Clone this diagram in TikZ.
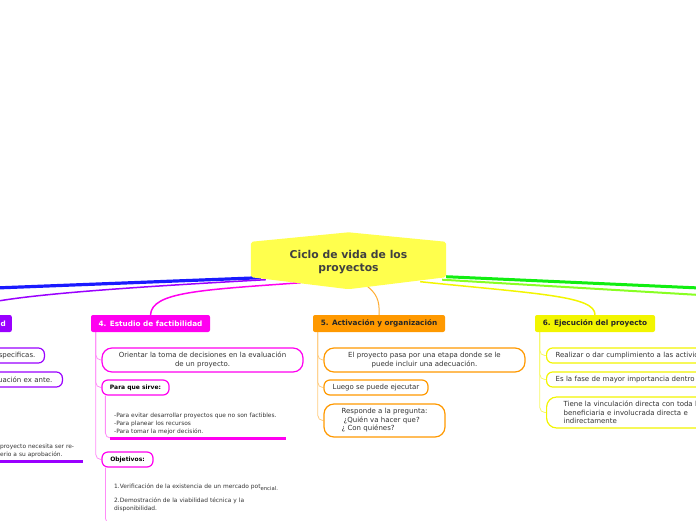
\documentclass[tikz,border=0pt]{standalone}
\usepackage{fontspec}
\setmainfont{DejaVu Sans}
\usepackage{xcolor}
\usepackage{tikz}
\usetikzlibrary{positioning}

\definecolor{rootyellow}{HTML}{FFFF4D}
\definecolor{roottext}{HTML}{404040}
\definecolor{cblue}{HTML}{1A1AFF}
\definecolor{cpurple}{HTML}{9A00FF}
\definecolor{cmagenta}{HTML}{FF00F0}
\definecolor{corange}{HTML}{FF9900}
\definecolor{cyellow}{HTML}{F2F500}
\definecolor{cgreen}{HTML}{11EE11}
\definecolor{clime}{HTML}{88FF22}
\definecolor{leaftext}{HTML}{333333}

\pgfdeclarelayer{lines}
\pgfdeclarelayer{shape}
\pgfsetlayers{lines,shape,main}

\begin{document}
\begin{tikzpicture}[x=1pt, y=-1pt,
    topic/.style={rounded corners=2pt, font=\fontsize{7.3}{8}\selectfont\bfseries, minimum height=17pt, inner sep=0pt},
    leaf/.style={draw, fill=white, rounded corners=6pt, line width=1.2pt, font=\fontsize{7}{8.5}\selectfont, text=leaftext, minimum height=15pt, inner xsep=8pt, inner ysep=2pt},
    head/.style={font=\fontsize{6}{7}\selectfont\bfseries, text=black},
    note/.style={font=\fontsize{5.9}{8}\selectfont, text=leaftext, align=left, inner xsep=4pt, inner ysep=3pt},
    sub/.style={line width=0.8pt, rounded corners=5pt},
    bar/.style={line width=3pt}]
    \path[use as bounding box] (0,0) rectangle (696,520);

    \node[font=\fontsize{10.8}{13}\selectfont\bfseries, text=roottext, align=center, minimum width=195pt, minimum height=35pt, inner sep=0pt] (root) at (348.5,262) {Ciclo de vida de los\\proyectos};
    \begin{pgfonlayer}{shape}
        \fill[rootyellow, rounded corners=2pt] ([yshift=2.5pt]root.north west) -- ([yshift=12pt]root.north) -- ([yshift=2.5pt]root.north east)
            -- ([yshift=2.5pt]root.south east) -- ([yshift=-9.5pt]root.south) -- ([yshift=2.5pt]root.south west) -- cycle;
    \end{pgfonlayer}

    \coordinate (blueend) at (-5,288);
    \coordinate (greenend) at (700,288);
    \coordinate (limeend) at (700,295);

    \node[topic, fill=cpurple, text=white, anchor=east, minimum width=100pt, text width=88pt, align=right] (ident) at (12,323.5) {d};
    \node[topic, fill=cmagenta, text=white, minimum width=119pt] (fact) at (150.5,323.5) {4. Estudio de factibilidad};
    \node[topic, fill=corange, text=black!85, minimum width=132pt] (act) at (379,323.5) {5. Activación y organización};
    \node[topic, fill=cyellow, text=black!85, minimum width=120pt] (ejec) at (595,323.5) {6. Ejecución del proyecto};

    \node[leaf, draw=cpurple, anchor=east, text width=60pt, align=right, inner xsep=9pt] (especif) at (45,355.5) {specificas.};
    \node[leaf, draw=cpurple, anchor=east, text width=70pt, align=right, inner xsep=10pt] (exante) at (63,379.5) {uación ex ante.};
    \node[note, anchor=south west, text width=80pt, inner xsep=3pt] (requisito) at (-3,461) {proyecto necesita ser re-\\erio a su aprobación.};

    \node[leaf, draw=cmagenta, rounded corners=10pt, minimum width=201pt, minimum height=24pt, align=center] (orient) at (202.5,360) {Orientar la toma de decisiones en la evaluación\\de un proyecto.};
    \node[leaf, head, draw=cmagenta, minimum width=67pt] (para) at (135.5,387.5) {Para que sirve:};
    \node[note, anchor=south west, text width=168pt] (sirve) at (110,438) {-Para evitar desarrollar proyectos que no son factibles.\\-Para planear los recursos\\-Para tomar la mejor decisión.};
    \node[leaf, head, draw=cmagenta, minimum width=51pt] (obj) at (127.5,459.5) {Objetivos:};
    \node[note, anchor=north west, text width=168pt] (metas) at (110,481) {1.Verificación de la existencia de un mercado pot\raisebox{-1.2pt}{\fontsize{5.3}{6}\selectfont encial.}\\[6pt]2.Demostración de la viabilidad técnica y la\\disponibilidad.};

    \node[leaf, draw=corange, rounded corners=10pt, minimum width=201pt, minimum height=24pt, align=center] (etapa) at (424.5,360) {El proyecto pasa por una etapa donde se le\\puede incluir una adecuación.};
    \node[leaf, draw=corange, minimum width=104pt] (luego) at (376,387.5) {Luego se puede ejecutar};
    \node[leaf, draw=corange, rounded corners=10pt, minimum width=121pt, minimum height=33pt, align=left] (pregunta) at (384.5,420.5) {Responde a la pregunta:\\\hspace*{2pt}¿Quién va hacer que?\\¿ Con quiénes?};

    \node[leaf, draw=cyellow, anchor=west, text width=190pt, inner xsep=9pt, align=left] (cumplir) at (546,355.5) {Realizar o dar cumplimiento a las activid};
    \node[leaf, draw=cyellow, anchor=west, text width=190pt, inner xsep=9pt, align=left] (fase) at (546,379.5) {Es la fase de mayor importancia dentro};
    \node[leaf, draw=cyellow, anchor=west, text width=180pt, inner xsep=17pt, rounded corners=10pt, minimum height=31pt, align=left] (vinculo) at (546,412.5) {Tiene la vinculación directa con toda l\\beneficiaria e involucrada directa e\\indirectamente};

    \draw[bar, cpurple] (requisito.south west) -- (requisito.south east);
    \draw[bar, cmagenta] (sirve.south west) -- (sirve.south east);

    \begin{pgfonlayer}{lines}
        \draw[cblue, line width=3.2pt] ([xshift=10pt,yshift=2pt]root.south west) -- (blueend);
        \draw[cpurple, line width=1.5pt] ([xshift=15pt]root.south west) .. controls (60,291) and (-39,300) .. (ident.north);
        \draw[cmagenta, line width=1.5pt] ([xshift=50pt,yshift=-3pt]root.south west) .. controls (200,290) and (152,292) .. (fact.north);
        \draw[corange!80, line width=1pt] ([xshift=18pt,yshift=-6pt]root.south) .. controls (376,293) and (380,300) .. (act.north);
        \draw[cyellow, line width=1.5pt] ([xshift=-26pt,yshift=-2pt]root.south east) .. controls (540,294) and (595,296) .. (ejec.north);
        \draw[cgreen, line width=3pt] ([yshift=3pt]root.south east) -- (greenend);
        \draw[clime, line width=2pt] ([xshift=-4pt]root.south east) -- (limeend);

        \draw[sub, cmagenta!45] ([xshift=5pt]fact.south west) |- (orient.west);
        \draw[sub, cmagenta!45] ([xshift=5pt]fact.south west) |- (para.west);
        \draw[sub, cmagenta!45] ([xshift=5pt]fact.south west) |- (obj.west);
        \draw[sub, cmagenta!45] ([xshift=4pt]para.south west) |- (sirve.south west);
        \draw[sub, cmagenta!45] ([xshift=4pt]obj.south west) |- ([yshift=-8pt]metas.south west);

        \draw[sub, corange!50] ([xshift=5pt]act.south west) |- (etapa.west);
        \draw[sub, corange!50] ([xshift=5pt]act.south west) |- (luego.west);
        \draw[sub, corange!50] ([xshift=5pt]act.south west) |- (pregunta.west);

        \draw[sub, cyellow!60] ([xshift=5pt]ejec.south west) |- (cumplir.west);
        \draw[sub, cyellow!60] ([xshift=5pt]ejec.south west) |- (fase.west);
        \draw[sub, cyellow!60] ([xshift=5pt]ejec.south west) |- (vinculo.west);
    \end{pgfonlayer}
\end{tikzpicture}
\end{document}
